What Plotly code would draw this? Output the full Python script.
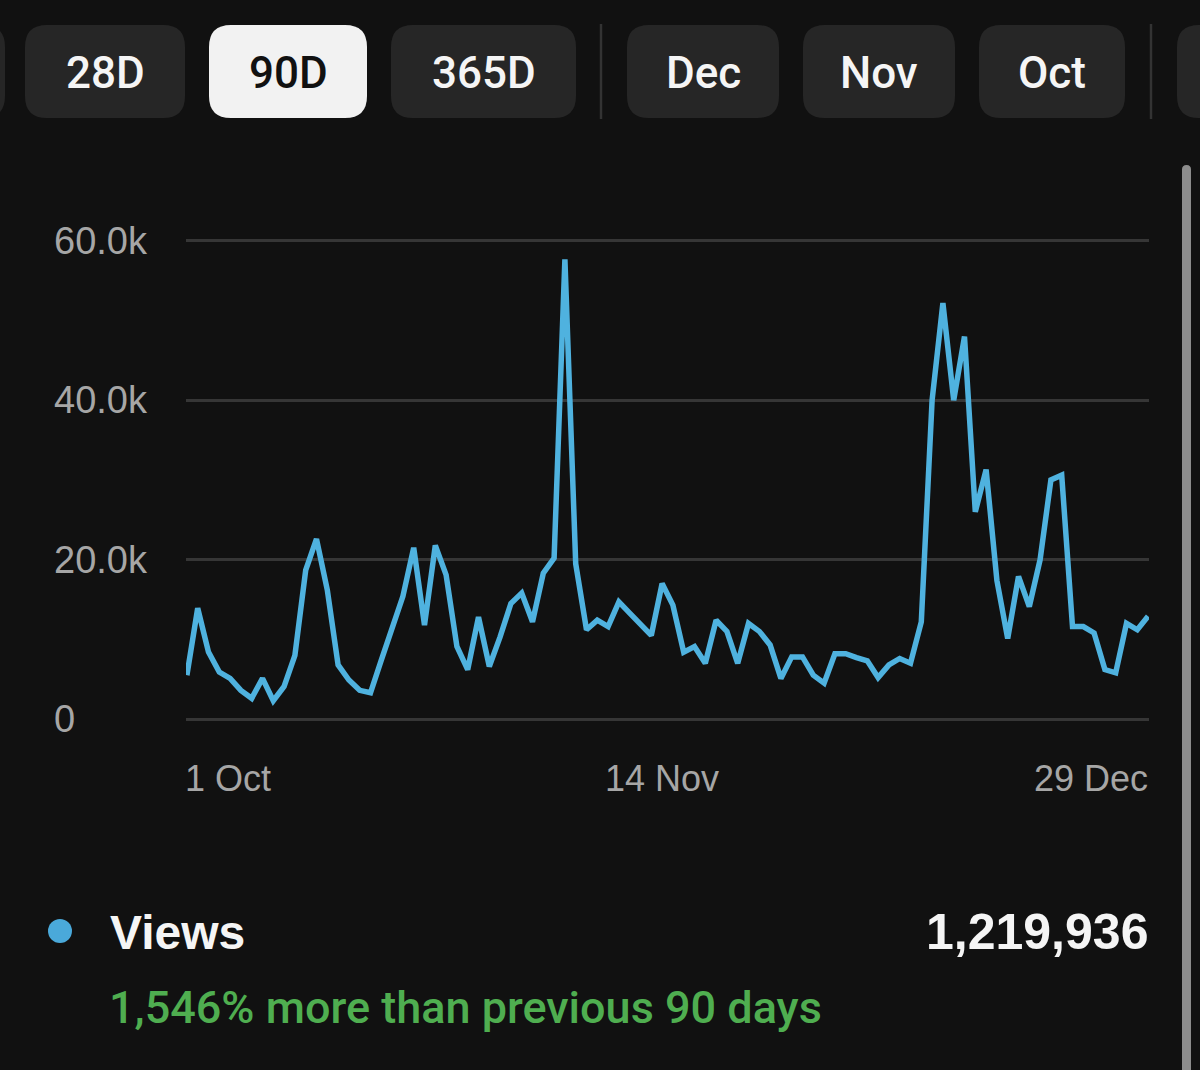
import plotly.graph_objects as go
import pandas as pd

# ---- data ----
views_k = [5.5, 13.9, 8.4, 5.9, 5.1, 3.6, 2.6, 5.1, 2.3, 4.1,
           8.0, 18.7, 22.6, 16.2, 6.8, 4.9, 3.6, 3.3, 7.4, 11.6,
           15.4, 21.5, 11.8, 21.8, 18.1, 9.1, 6.2, 12.8, 6.6, 10.3,
           14.5, 15.8, 12.2, 18.3, 20.2, 57.7, 19.5, 11.2, 12.4, 11.6,
           14.7, 13.3, 12.0, 10.5, 17.0, 14.3, 8.4, 9.1, 7.0, 12.4,
           11.0, 7.0, 12.0, 11.0, 9.3, 5.1, 7.8, 7.8, 5.5, 4.5,
           8.2, 8.2, 7.7, 7.3, 5.2, 6.8, 7.6, 7.0, 12.2, 40.0,
           52.2, 40.0, 48.0, 26.0, 31.3, 17.4, 10.1, 17.9, 14.1, 20.0,
           30.0, 30.6, 11.6, 11.6, 10.8, 6.2, 5.8, 12.0, 11.2, 12.9]
views = [v * 1000 for v in views_k]
dates = pd.date_range("2023-10-01", periods=len(views), freq="D")

y_tick_vals = [0, 20000, 40000, 60000]
y_tick_text = ["0", "20.0k", "40.0k", "60.0k"]
x_tick_dates = ["2023-10-01", "2023-11-14", "2023-12-29"]
x_tick_text = ["1 Oct", "14 Nov", "29 Dec"]
x_tick_anchor = ["left", "center", "right"]

buttons = ["28D", "90D", "365D", "Dec", "Nov", "Oct"]
selected = "90D"
series_name = "Views"
total_text = "1,219,936"
change_text = "1,546% more than previous 90 days"

# ---- layout helpers (pixel -> paper) ----
W, H = 1200, 1070
def px(x):
    return x / W
def py(y):
    return 1 - y / H

def rrect(x0, y0, x1, y1, r):
    pts = [
        f"M {px(x0 + r)} {py(y0)}",
        f"L {px(x1 - r)} {py(y0)}",
        f"Q {px(x1)} {py(y0)} {px(x1)} {py(y0 + r)}",
        f"L {px(x1)} {py(y1 - r)}",
        f"Q {px(x1)} {py(y1)} {px(x1 - r)} {py(y1)}",
        f"L {px(x0 + r)} {py(y1)}",
        f"Q {px(x0)} {py(y1)} {px(x0)} {py(y1 - r)}",
        f"L {px(x0)} {py(y0 + r)}",
        f"Q {px(x0)} {py(y0)} {px(x0 + r)} {py(y0)}",
        "Z",
    ]
    return " ".join(pts)

BG = "#111111"
BTN = "#262626"
GRID = "#363636"
LINE = "#4fb2df"
TICK = "#a6a6a6"
SANS = "Liberation Sans, Arial"
MED = "Roboto, Liberation Sans, Arial"

fig = go.Figure()
fig.add_trace(go.Scatter(
    x=dates, y=views, mode="lines",
    line=dict(color=LINE, width=5.5, shape="linear"),
    hoverinfo="skip", showlegend=False,
))

shapes = []
annotations = []

# Buttons
btn_boxes = [(25, 185), (209, 367), (391, 576), (627, 779), (803, 955), (979, 1125)]
shapes.append(dict(type="path", xref="paper", yref="paper", path=rrect(-40, 25, 5, 118, 22),
                   fillcolor=BTN, line=dict(width=0), layer="below"))
shapes.append(dict(type="path", xref="paper", yref="paper", path=rrect(1177, 25, 1240, 118, 22),
                   fillcolor=BTN, line=dict(width=0), layer="below"))
for label, (x0, x1) in zip(buttons, btn_boxes):
    is_sel = label == selected
    shapes.append(dict(type="path", xref="paper", yref="paper", path=rrect(x0, 25, x1, 118, 22),
                       fillcolor="#f2f2f2" if is_sel else BTN, line=dict(width=0), layer="below"))
    annotations.append(dict(
        x=px((x0 + x1) / 2), y=py(73), xref="paper", yref="paper",
        text=label, showarrow=False, xanchor="center", yanchor="middle",
        font=dict(family=MED, size=44, color="#111111" if is_sel else "#f5f5f5",
                  weight=500),
    ))
# separators
for sx in [601, 1151]:
    shapes.append(dict(type="line", xref="paper", yref="paper", x0=px(sx), x1=px(sx), y0=py(24), y1=py(119),
                       line=dict(color="#333333", width=2.5)))

# scrollbar
shapes.append(dict(type="path", xref="paper", yref="paper", path=rrect(1182, 165, 1191, 1100, 4.5),
                   fillcolor="#8c8c8c", line=dict(width=0)))

# y tick labels (left aligned)
for v, t in zip(y_tick_vals, y_tick_text):
    annotations.append(dict(
        x=px(52), y=v, xref="paper", yref="y", text=t, showarrow=False,
        xanchor="left", yanchor="middle",
        font=dict(family=SANS, size=38, color=TICK),
    ))
# x tick labels
x_shift = [-4, 0, 2]
for d, t, a, s in zip(x_tick_dates, x_tick_text, x_tick_anchor, x_shift):
    annotations.append(dict(
        x=d, y=py(778), xref="x", yref="paper", text=t, showarrow=False,
        xanchor=a, yanchor="middle", xshift=s,
        font=dict(family=SANS, size=36, color=TICK),
    ))

# legend / summary
shapes.append(dict(type="circle", xref="paper", yref="paper",
                   x0=px(48), x1=px(72), y0=py(919), y1=py(943),
                   fillcolor="#4aa9da", line=dict(width=0)))
annotations.append(dict(
    x=px(108), y=py(932), xref="paper", yref="paper", text=series_name, showarrow=False,
    xanchor="left", yanchor="middle",
    font=dict(family=SANS, size=48, color="#f5f5f5", weight="bold"),
))
annotations.append(dict(
    x=px(1150), y=py(932), xref="paper", yref="paper", text=total_text, showarrow=False,
    xanchor="right", yanchor="middle",
    font=dict(family=SANS, size=50, color="#f5f5f5", weight="bold"),
))
annotations.append(dict(
    x=px(107), y=py(1007), xref="paper", yref="paper", text=change_text, showarrow=False,
    xanchor="left", yanchor="middle",
    font=dict(family=MED, size=45, color="#4fae50", weight=500),
))

fig.update_layout(
    width=W, height=H,
    margin=dict(l=0, r=0, t=0, b=0),
    paper_bgcolor=BG, plot_bgcolor=BG,
    shapes=shapes, annotations=annotations,
    showlegend=False,
    xaxis=dict(
        domain=[px(186), px(1149)],
        range=[pd.Timestamp("2023-10-01") - pd.Timedelta(hours=2), pd.Timestamp("2023-12-29") + pd.Timedelta(hours=2)],
        showgrid=False, zeroline=False, showticklabels=False, showline=False, ticks="",
    ),
    yaxis=dict(
        domain=[py(727), py(233)],
        range=[-1000, 61000],
        tickvals=y_tick_vals, showticklabels=False,
        showgrid=True, gridcolor=GRID, gridwidth=3,
        zeroline=False, showline=False, ticks="",
    ),
)

fig.write_html("out.html")
